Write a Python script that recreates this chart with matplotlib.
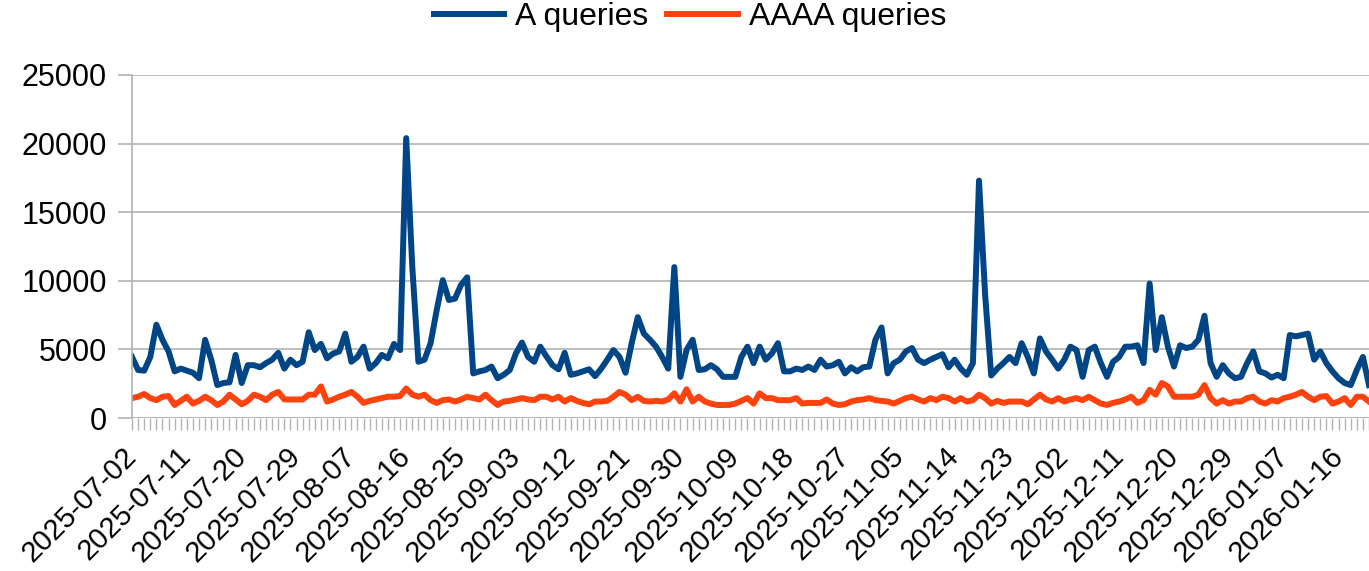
import numpy as np
import pandas as pd
import matplotlib
matplotlib.use("Agg")
import matplotlib.pyplot as plt

plt.rcParams['font.family'] = ['Liberation Sans', 'DejaVu Sans']

# ........................ Data ........................
start_date = "2025-07-02"

a_queries = [
    4450, 3500, 3450, 4450, 6800, 5700, 4850, 3400, 3600, 3450,
    3300, 2900, 5700, 4250, 2400, 2550, 2600, 4600, 2550, 3850,
    3850, 3700, 4000, 4250, 4750, 3600, 4250, 3850, 4100, 6250,
    4950, 5400, 4350, 4700, 4850, 6150, 4100, 4450, 5200, 3600,
    4000, 4600, 4350, 5400, 4950, 20400, 11000, 4100, 4250, 5450,
    7850, 10050, 8600, 8700, 9700, 10250, 3250, 3400, 3500, 3750,
    2900, 3150, 3500, 4700, 5500, 4450, 4100, 5200, 4500, 3850,
    3550, 4750, 3150, 3250, 3400, 3550, 3050, 3600, 4250, 4950,
    4450, 3300, 5450, 7350, 6150, 5700, 5200, 4450, 3600, 11000,
    3000, 4950, 5700, 3500, 3550, 3850, 3550, 3000, 3000, 3000,
    4450, 5200, 4000, 5200, 4250, 4700, 5450, 3400, 3400, 3600,
    3500, 3750, 3500, 4250, 3750, 3850, 4100, 3250, 3700, 3400,
    3700, 3750, 5700, 6600, 3250, 4000, 4250, 4850, 5100, 4250,
    4000, 4250, 4450, 4650, 3700, 4250, 3600, 3150, 4000, 17300,
    9000, 3100, 3600, 4000, 4450, 4000, 5450, 4450, 3250, 5800,
    4850, 4250, 3600, 4250, 5200, 4950, 3000, 4950, 5200, 4000,
    3000, 4100, 4450, 5200, 5200, 5300, 4000, 9800, 4950, 7350,
    5200, 3750, 5300, 5100, 5200, 5700, 7450, 4000, 3000, 3850,
    3250, 2900, 3000, 4000, 4850, 3400, 3250, 2950, 3150, 2900,
    6050, 5950, 6050, 6150, 4250, 4850, 4000, 3400, 2900, 2550,
    2400, 3500, 4450, 2400,
]

aaaa_queries = [
    1450, 1550, 1750, 1450, 1300, 1550, 1600, 950, 1250, 1550,
    1050, 1250, 1550, 1300, 950, 1200, 1700, 1350, 1000, 1250,
    1700, 1550, 1300, 1700, 1900, 1350, 1350, 1350, 1350, 1700,
    1700, 2300, 1200, 1350, 1550, 1700, 1900, 1550, 1100, 1250,
    1350, 1450, 1550, 1550, 1600, 2150, 1700, 1550, 1700, 1300,
    1100, 1300, 1350, 1200, 1350, 1550, 1450, 1350, 1700, 1300,
    950, 1200, 1250, 1350, 1450, 1350, 1300, 1550, 1550, 1350,
    1550, 1200, 1450, 1250, 1100, 1000, 1200, 1200, 1250, 1550,
    1900, 1700, 1300, 1550, 1250, 1200, 1250, 1200, 1350, 1800,
    1200, 2100, 1200, 1550, 1200, 1050, 950, 950, 950, 1050,
    1250, 1450, 1050, 1800, 1450, 1450, 1300, 1300, 1300, 1450,
    1050, 1100, 1100, 1100, 1350, 1050, 950, 1000, 1200, 1300,
    1350, 1450, 1300, 1250, 1200, 1050, 1250, 1450, 1550, 1350,
    1200, 1450, 1300, 1550, 1450, 1200, 1450, 1200, 1300, 1700,
    1450, 1050, 1250, 1100, 1200, 1200, 1200, 1000, 1350, 1700,
    1350, 1200, 1450, 1200, 1350, 1450, 1300, 1550, 1300, 1050,
    950, 1100, 1200, 1350, 1550, 1100, 1300, 2050, 1700, 2550,
    2300, 1550, 1550, 1550, 1550, 1700, 2400, 1450, 1050, 1300,
    1050, 1200, 1200, 1450, 1550, 1200, 1050, 1300, 1200, 1450,
    1550, 1700, 1900, 1550, 1300, 1550, 1600, 1050, 1200, 1450,
    950, 1550, 1550, 1200,
]

dates = pd.date_range(start_date, periods=len(a_queries), freq="D")
label_step = 9

# ........................ Plot ........................
fig = plt.figure(figsize=(13.69, 5.71), dpi=100)
ax = fig.add_axes([132 / 1369, 1 - 418 / 571, 1 - 132 / 1369, 343 / 571])

x = np.arange(len(dates))
ax.plot(x, a_queries, color="#004586", lw=4.3, label="A queries", solid_joinstyle="round")
ax.plot(x, aaaa_queries, color="#ff420e", lw=4.3, label="AAAA queries", solid_joinstyle="round")

ax.set_xlim(0, len(dates) - 1)
ax.set_ylim(0, 25000)
ax.set_yticks(range(0, 25001, 5000))
ax.set_yticklabels([str(v) for v in range(0, 25001, 5000)])
ax.yaxis.grid(True, color="#b3b3b3", lw=1.2)
ax.set_axisbelow(True)

ax.set_xticks(x)
ax.set_xticklabels([d.strftime("%Y-%m-%d") if i % label_step == 0 else "" for i, d in enumerate(dates)],
                   rotation=45, ha="right", va="center", rotation_mode="anchor")

for side in ["top", "right", "bottom"]:
    ax.spines[side].set_visible(False)
ax.spines["left"].set_color("#b3b3b3")
ax.spines["left"].set_linewidth(1.2)
ax.axhline(0, color="#b3b3b3", lw=1.2, zorder=0.5)

ax.tick_params(axis="y", length=10, color="#b3b3b3", width=1.2, labelsize=22, pad=8)
ax.tick_params(axis="x", length=8.5, color="#b3b3b3", width=1.0, labelsize=21, pad=16)

fig.legend(loc="center", bbox_to_anchor=(0.504, 0.970), ncol=2, frameon=False,
           fontsize=23, handlelength=2.2, handletextpad=0.35, columnspacing=0.6)

fig.savefig("out.png", dpi=100)
